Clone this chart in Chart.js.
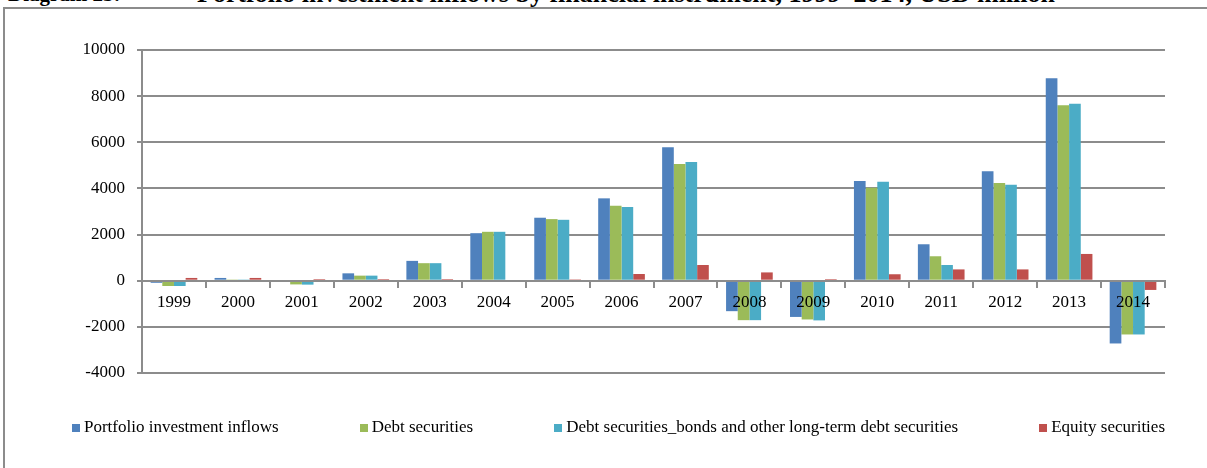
<!DOCTYPE html>
<html>
<head>
<meta charset="utf-8">
<script src="https://cdn.jsdelivr.net/npm/chart.js@4.4.1/dist/chart.umd.min.js"></script>
<style>
  html, body { margin: 0; padding: 0; background: #fff; overflow: hidden; }
  body { width: 1207px; height: 468px; position: relative; }
  .title {
    position: absolute; white-space: nowrap; color: #000;
    font-family: "Liberation Serif", serif; font-weight: bold;
  }
  #title-num { left: 8px; top: -16px; font-size: 21px; line-height: 21px; }
  #title-text { left: 197px; top: -19px; font-size: 26px; line-height: 26px; }
  #frame {
    position: absolute; left: 3px; top: 7px; width: 1240px; height: 500px;
    border: 2px solid #8c8c8c;
  }
  #wrap { position: absolute; left: 0; top: 0; width: 1207px; height: 468px; }
  #legend {
    position: absolute; left: 72px; width: 1093px; top: 418px;
    display: flex; justify-content: space-between; white-space: nowrap;
    font: 17px/17px "Liberation Serif", serif; color: #000;
  }
  #legend .swatch {
    display: inline-block; width: 8px; height: 8px; margin-right: 4px;
    vertical-align: 0;
  }
</style>
</head>
<body>
<div class="title" id="title-num">Diagram 23:</div>
<div class="title" id="title-text">Portfolio investment inflows by financial instrument, 1999–2014, USD million</div>
<div id="frame"></div>
<div id="wrap"><canvas id="inflows-chart"></canvas></div>
<div id="legend"></div>
<script>
const years = ["1999", "2000", "2001", "2002", "2003", "2004", "2005", "2006",
  "2007", "2008", "2009", "2010", "2011", "2012", "2013", "2014"];

// USD million
const portfolioInflows = [-90, 120, -50, 320, 860, 2060, 2730, 3570,
  5780, -1320, -1570, 4320, 1580, 4740, 8780, -2720];
const debtSecurities = [-230, 10, -160, 220, 760, 2120, 2670, 3250,
  5060, -1710, -1680, 4030, 1060, 4230, 7600, -2330];
const bondsLongTerm = [-230, 10, -170, 220, 760, 2120, 2640, 3190,
  5150, -1710, -1720, 4290, 680, 4160, 7670, -2330];
const equitySecurities = [120, 120, 70, 70, 70, -40, 60, 290,
  680, 360, 70, 280, 490, 490, 1160, -400];

const seriesNames = [
  "Portfolio investment inflows",
  "Debt securities",
  "Debt securities_bonds and other long-term debt securities",
  "Equity securities",
];
const seriesColors = ["#4F81BD", "#9BBB59", "#4BACC6", "#C0504D"];

const yTicks = [-4000, -2000, 0, 2000, 4000, 6000, 8000, 10000];

const gridGray = "#8c8c8c";
const serif = "'Liberation Serif', 'Times New Roman', serif";

const datasets = [portfolioInflows, debtSecurities, bondsLongTerm, equitySecurities]
  .map((values, i) => ({
    label: seriesNames[i],
    data: values,
    backgroundColor: seriesColors[i],
    borderWidth: 0,
    categoryPercentage: 0.73,
    barPercentage: 1.0,
  }));

// legend spread across the width under the plot
const legendEl = document.getElementById("legend");
seriesNames.forEach((name, i) => {
  const item = document.createElement("span");
  const swatch = document.createElement("span");
  swatch.className = "swatch";
  swatch.style.background = seriesColors[i];
  item.appendChild(swatch);
  item.appendChild(document.createTextNode(name));
  legendEl.appendChild(item);
});

new Chart(document.getElementById("inflows-chart"), {
  type: "bar",
  data: { labels: years, datasets: datasets },
  options: {
    responsive: true,
    maintainAspectRatio: false,
    animation: false,
    layout: { padding: { left: 0, right: 42, top: 50, bottom: 95 } },
    plugins: {
      tooltip: { enabled: false },
      legend: { display: false },
    },
    scales: {
      x: {
        position: { y: 0 },
        grid: {
          drawOnChartArea: false,
          offset: true,
          tickLength: 6,
          color: gridGray,
          lineWidth: 2,
          z: 1,
        },
        border: { color: gridGray, width: 2, z: 1 },
        ticks: {
          color: "#000",
          padding: 6,
          maxRotation: 0,
          z: 1,
          font: { family: serif, size: 17 },
        },
      },
      y: {
        min: -4000,
        max: 10000,
        afterFit(scale) { scale.width = 142; },
        afterBuildTicks(scale) { scale.ticks = yTicks.map((v) => ({ value: v })); },
        grid: { color: gridGray, lineWidth: 2, tickLength: 5 },
        border: { color: gridGray, width: 2 },
        ticks: {
          color: "#000",
          padding: 12,
          font: { family: serif, size: 17 },
          callback: (value) => String(value),
        },
      },
    },
  },
});
</script>
</body>
</html>
